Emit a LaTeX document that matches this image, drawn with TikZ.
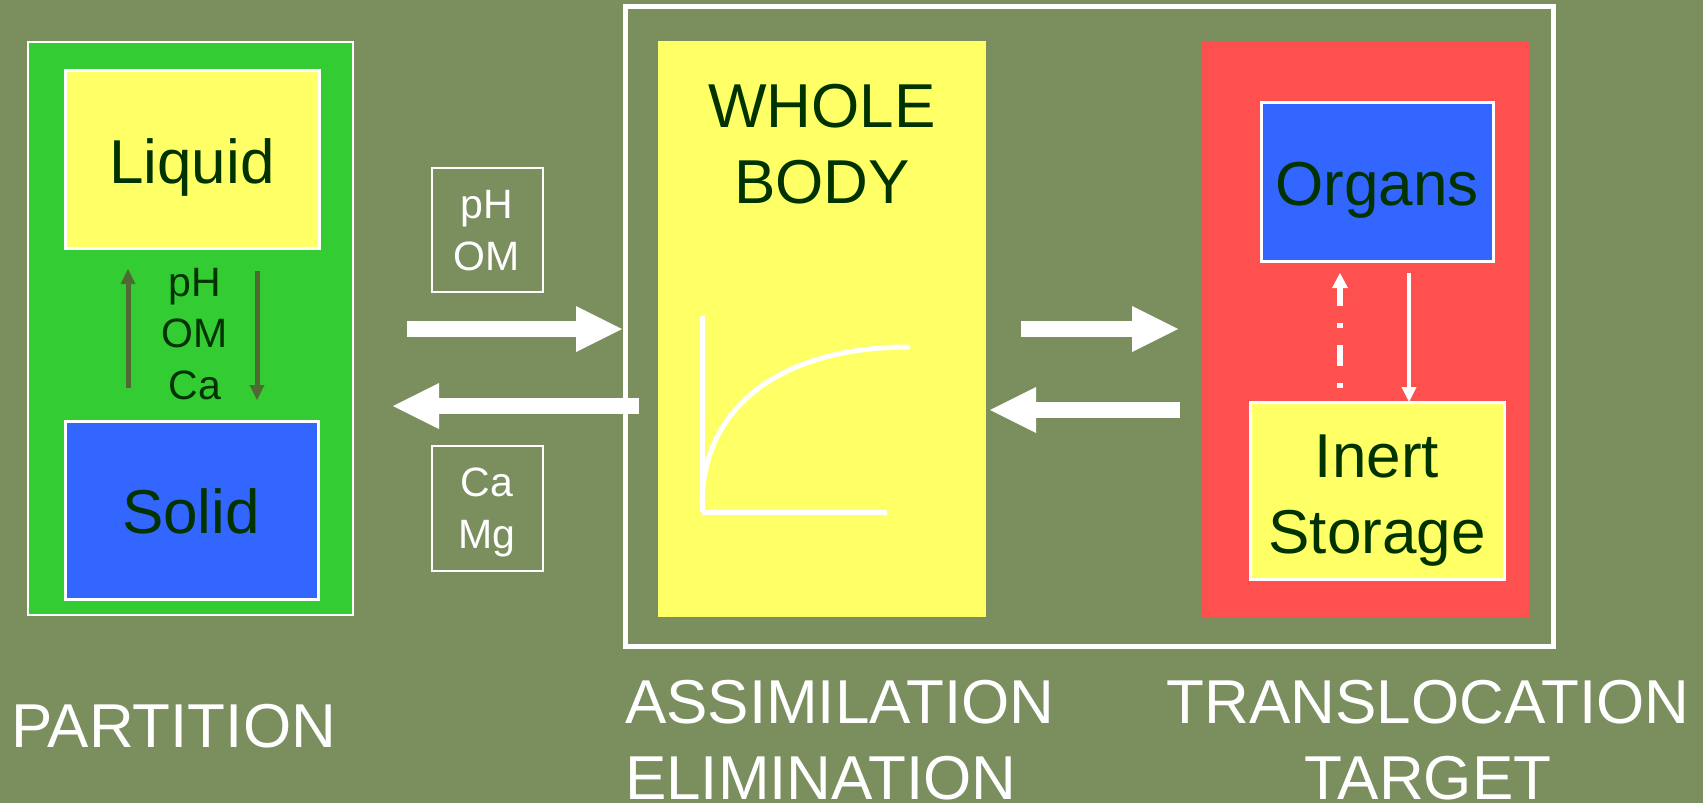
\documentclass[tikz,border=0pt]{standalone}
\usepackage{fontspec}
\setmainfont{Liberation Sans}
\usetikzlibrary{arrows.meta}
\definecolor{bg}{RGB}{122,142,94}
\definecolor{boxgreen}{RGB}{51,204,51}
\definecolor{boxyellow}{RGB}{255,255,102}
\definecolor{boxblue}{RGB}{51,102,255}
\definecolor{boxred}{RGB}{255,80,80}
\definecolor{darktext}{RGB}{0,51,0}
\definecolor{olivearrow}{RGB}{80,105,50}
\begin{document}
\begin{tikzpicture}[x=1pt,y=-1pt,
  panel/.style={inner sep=0pt, outer sep=0pt, anchor=north west},
  innerbox/.style={panel, draw=white, line width=3pt},
  bigtext/.style={inner sep=0pt, outer sep=0pt, anchor=base, text=darktext, font=\fontsize{62}{76}\selectfont},
  smalltext/.style={inner sep=0pt, outer sep=0pt, anchor=base, align=center, font=\fontsize{41}{51.5}\selectfont},
  caption/.style={inner sep=0pt, outer sep=0pt, text=white, font=\fontsize{62}{76}\selectfont},
  bigarrow/.style={draw=white, line width=16pt, -{Triangle[length=46pt,width=46pt,line width=0pt]}},
  olivearr/.style={draw=olivearrow, line width=5pt, -{Triangle[length=15pt,width=15pt,line width=0pt]}},
  whitearr/.style={draw=white, line width=4pt, -{Triangle[length=15pt,width=15pt,line width=0pt]}},
  dasharr/.style={draw=white, line width=6pt, dash pattern=on 5pt off 17pt on 21pt off 17pt, -{Triangle[length=15pt,width=16pt,line width=0pt]}},
  axis/.style={draw=white, line width=5pt}
]
\fill[bg] (0,0) rectangle (1703,803);
\useasboundingbox (0,0) rectangle (1703,803);

% outer frame
\node[panel, draw=white, line width=5pt, minimum width=928pt, minimum height=640pt] (frame) at (625,6) {};

% partition panel
\node[panel, fill=boxgreen, draw=white, line width=2pt, minimum width=325pt, minimum height=573pt] (green) at (28,42) {};
\node[innerbox, fill=boxyellow, minimum width=254pt, minimum height=178pt] (liquid) at (65,70) {};
\node[innerbox, fill=boxblue, minimum width=253pt, minimum height=178pt] (solid) at (65,421) {};
\node[bigtext] (liquidtxt) at (192,183) {Liquid};
\node[bigtext] (solidtxt) at (191,533) {Solid};
\node[smalltext, text=darktext] (partfactors) at (195,399) {pH\\OM\\Ca};
\coordinate (upx) at (128,0);
\coordinate (downx) at (257,0);
\draw[olivearr, shorten <=33pt, shorten >=21pt] (solid.north -| upx) -- (liquid.south -| upx);
\draw[olivearr, shorten <=23pt, shorten >=21pt] (liquid.south -| downx) -- (solid.north -| downx);

% factor boxes
\node[panel, draw=white, line width=2pt, minimum width=111pt, minimum height=124pt] (phbox) at (432,168) {};
\node[smalltext, text=white] (phtxt) at (487,270) {pH\\OM};
\node[panel, draw=white, line width=2pt, minimum width=111pt, minimum height=125pt] (cabox) at (432,446) {};
\node[smalltext, text=white] (catxt) at (487,548) {Ca\\Mg};

% whole body
\node[panel, fill=boxyellow, minimum width=328pt, minimum height=576pt] (whole) at (658,41) {};
\node[bigtext, align=center] (wholetxt) at (822,203) {WHOLE\\BODY};
\draw[axis] (702,316) -- (702,512);
\draw[axis] (702,512) -- (887,512);
\draw[axis, line cap=round] (702,505) .. controls (702,400) and (790,347) .. (908,347);

% translocation panel
\node[panel, fill=boxred, minimum width=327pt, minimum height=576pt] (red) at (1202,41) {};
\node[innerbox, fill=boxblue, minimum width=232pt, minimum height=159pt] (organs) at (1261,102) {};
\node[innerbox, fill=boxyellow, minimum width=254pt, minimum height=177pt] (inert) at (1250,402) {};
\node[bigtext] (organstxt) at (1377,205) {Organs};
\node[bigtext, align=center] (inerttxt) at (1377,553) {Inert\\Storage};
\coordinate (dashx) at (1340,0);
\coordinate (solidx) at (1409,0);
\draw[dasharr, shorten <=14pt, shorten >=12pt] (inert.north -| dashx) -- (organs.south -| dashx);
\draw[whitearr, shorten <=12pt] (organs.south -| solidx) -- (inert.north -| solidx);

% big flow arrows
\coordinate (rowA) at (0,329);
\coordinate (rowB) at (0,406);
\coordinate (rowD) at (0,410);
\draw[bigarrow, shorten <=54pt, shorten >=36pt] (green.east |- rowA) -- (whole.west |- rowA);
\draw[bigarrow, shorten <=19pt, shorten >=40pt] (whole.west |- rowB) -- (green.east |- rowB);
\draw[bigarrow, shorten <=35pt, shorten >=24pt] (whole.east |- rowA) -- (red.west |- rowA);
\draw[bigarrow, shorten <=22pt, shorten >=4pt] (red.west |- rowD) -- (whole.east |- rowD);

% captions
\node[caption, anchor=base west] (partition) at (11,747) {PARTITION};
\node[caption, anchor=base west, align=left] (assim) at (625,799) {ASSIMILATION\\ELIMINATION};
\node[caption, anchor=base, align=center] (transl) at (1428,799) {TRANSLOCATION\\TARGET};
\end{tikzpicture}
\end{document}
